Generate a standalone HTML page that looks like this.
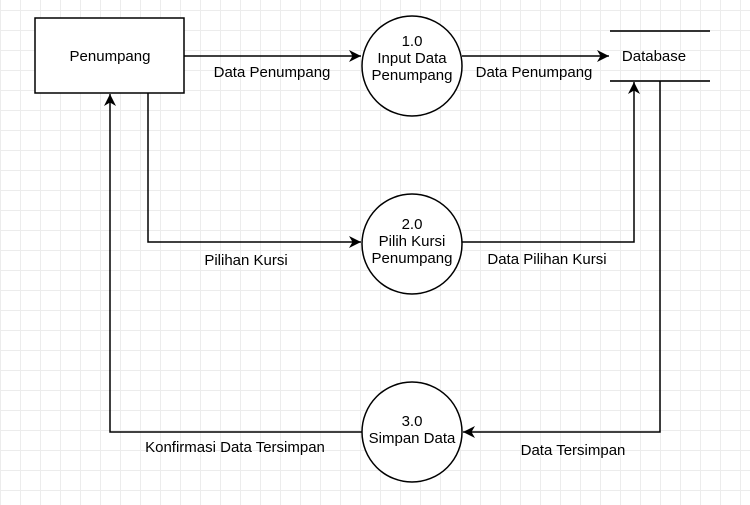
<!DOCTYPE html>
<html><head><meta charset="utf-8"><style>
body{margin:0;width:750px;height:505px;overflow:hidden;background:#fff;
background-image:linear-gradient(#ececec 1px,transparent 1px),linear-gradient(90deg,#ececec 1px,transparent 1px);
background-size:20px 20px;background-position:0 10px,0 0;}
svg{position:absolute;left:0;top:0}
text{font-family:"Liberation Sans",sans-serif;font-size:15px;fill:#000}
</style></head><body>
<svg width="750" height="505">
<defs><marker id="a" markerWidth="14" markerHeight="14" refX="12" refY="6" orient="auto" markerUnits="userSpaceOnUse"><path d="M0,0 L12,6 L0,12 L3.5,6Z" fill="#000"/></marker></defs>
<g stroke="#000" stroke-width="1.5" fill="none">
<rect x="35" y="18" width="149" height="75" fill="#fff"/>
<circle cx="412" cy="66" r="50" fill="#fff"/>
<circle cx="412" cy="244" r="50" fill="#fff"/>
<circle cx="412" cy="432" r="50" fill="#fff"/>
<line x1="610" y1="31" x2="710" y2="31" stroke="#333" stroke-width="2"/>
<line x1="610" y1="81" x2="710" y2="81" stroke="#333" stroke-width="2"/>
<path d="M184,56 H361" marker-end="url(#a)"/>
<path d="M462,56 H609" marker-end="url(#a)"/>
<path d="M148,93 V242 H361" marker-end="url(#a)"/>
<path d="M462,242 H634 V82" marker-end="url(#a)"/>
<path d="M660,81 V432 H463" marker-end="url(#a)"/>
<path d="M362,432 H110 V94" marker-end="url(#a)"/>
</g>
<text x="110" y="61" text-anchor="middle">Penumpang</text>
<text x="654" y="61" text-anchor="middle">Database</text>
<text x="412" y="46" text-anchor="middle">1.0</text>
<text x="412" y="63" text-anchor="middle">Input Data</text>
<text x="412" y="80" text-anchor="middle">Penumpang</text>
<text x="412" y="229" text-anchor="middle">2.0</text>
<text x="412" y="246" text-anchor="middle">Pilih Kursi</text>
<text x="412" y="263" text-anchor="middle">Penumpang</text>
<text x="412" y="426" text-anchor="middle">3.0</text>
<text x="412" y="443" text-anchor="middle">Simpan Data</text>
<text x="272" y="77" text-anchor="middle">Data Penumpang</text>
<text x="534" y="77" text-anchor="middle">Data Penumpang</text>
<text x="246" y="265" text-anchor="middle">Pilihan Kursi</text>
<text x="547" y="264" text-anchor="middle">Data Pilihan Kursi</text>
<text x="235" y="452" text-anchor="middle">Konfirmasi Data Tersimpan</text>
<text x="573" y="455" text-anchor="middle">Data Tersimpan</text>
</svg>
</body></html>
